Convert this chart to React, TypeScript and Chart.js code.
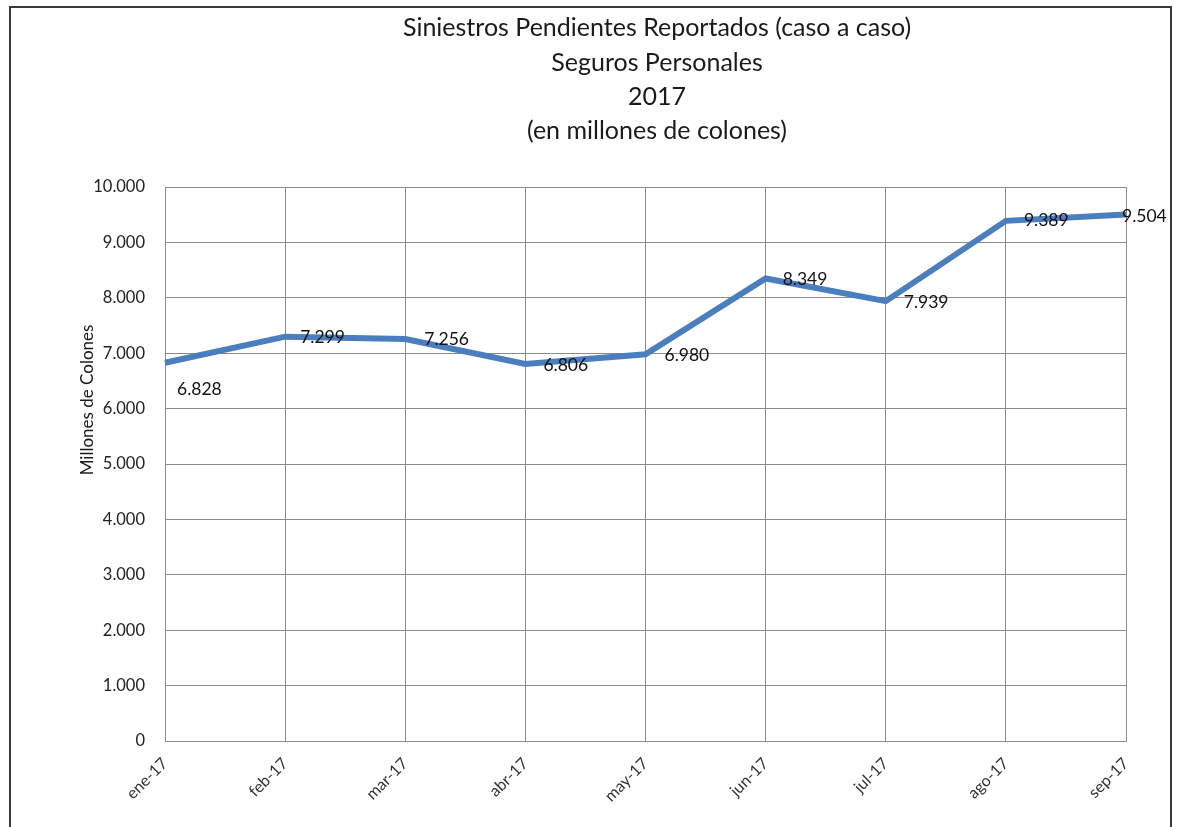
import React, { useEffect, useRef } from "react";
import { Chart, registerables } from "chart.js";

Chart.register(...registerables);

const titleLines = [
  "Siniestros Pendientes Reportados (caso a caso)",
  "Seguros Personales",
  "2017",
  "(en millones de colones)",
];
const months = ["ene-17", "feb-17", "mar-17", "abr-17", "may-17", "jun-17", "jul-17", "ago-17", "sep-17"];
const values = [6828, 7299, 7256, 6806, 6980, 8349, 7939, 9389, 9504];
const yAxisTitle = "Millones de Colones";

const labelDx = [12, 15, 19, 18, 19, 17, 18, 18, -4];
const labelDy = [27, 1, 0, 1, 1, 1, 1, 0, 2];

const FONT = "Lato, 'Open Sans', sans-serif";

function fmt(v: number): string {
  const s = Math.round(v).toString();
  return s.replace(/\B(?=(\d{3})+(?!\d))/g, ".");
}

const decorPlugin = {
  id: "decor",
  beforeDraw(chart: any) {
    const ctx = chart.ctx;
    ctx.save();
    ctx.fillStyle = "#ffffff";
    ctx.fillRect(0, 0, chart.width, chart.height);
    ctx.strokeStyle = "#3a3a3a";
    ctx.lineWidth = 2;
    ctx.strokeRect(10, 7, 1161, 900);
    ctx.restore();
  },
  afterDraw(chart: any) {
    const ctx = chart.ctx;
    ctx.save();
    ctx.fillStyle = "#1a1a1a";
    ctx.textAlign = "center";
    ctx.textBaseline = "middle";
    ctx.font = `25px ${FONT}`;
    const ys = [28, 63, 97, 131];
    titleLines.forEach((t, i) => ctx.fillText(t, 657, ys[i]));

    ctx.font = `17px ${FONT}`;
    ctx.translate(88, 400);
    ctx.rotate(-Math.PI / 2);
    ctx.fillText(yAxisTitle, 0, 0);
    ctx.restore();

    const meta = chart.getDatasetMeta(0);
    ctx.save();
    ctx.font = `17.5px ${FONT}`;
    ctx.fillStyle = "#111111";
    ctx.textAlign = "left";
    ctx.textBaseline = "middle";
    meta.data.forEach((pt: any, i: number) => {
      ctx.fillText(fmt(values[i]), pt.x + labelDx[i], pt.y + labelDy[i]);
    });
    ctx.restore();
  },
};

export default function App() {
  const ref = useRef<HTMLCanvasElement | null>(null);
  useEffect(() => {
    if (!ref.current) return;
    const chart = new Chart(ref.current, {
      type: "line",
      data: {
        labels: months,
        datasets: [
          {
            data: values,
            borderColor: "#4a7ebf",
            borderWidth: 6,
            pointRadius: 0,
            tension: 0,
            fill: false,
          },
        ],
      },
      options: {
        animation: false,
        responsive: false,
        maintainAspectRatio: false,
        layout: { padding: { top: 187, right: 51, left: 0, bottom: 0 } },
        plugins: {
          legend: { display: false },
          title: { display: false },
          tooltip: { enabled: false },
        },
        scales: {
          x: {
            grid: { color: "#8c8c8c", lineWidth: 1, drawTicks: false },
            border: { color: "#8c8c8c", width: 1 },
            ticks: {
              color: "#333333",
              font: { family: FONT, size: 16 },
              minRotation: 45,
              maxRotation: 45,
              padding: 13,
              autoSkip: false,
            },
            afterFit(scale: any) {
              scale.height = 86;
            },
          },
          y: {
            min: 0,
            max: 10000,
            grid: { color: "#8c8c8c", lineWidth: 1, drawTicks: false },
            border: { color: "#8c8c8c", width: 1 },
            ticks: {
              stepSize: 1000,
              color: "#222222",
              font: { family: FONT, size: 16.5 },
              padding: 20,
              callback: (v: any) => fmt(Number(v)),
            },
            afterFit(scale: any) {
              scale.width = 165;
            },
          },
        },
      },
      plugins: [decorPlugin],
    });
    return () => chart.destroy();
  }, []);
  return (
    <div style={{ position: "fixed", left: 0, top: 0, width: 1177, height: 827 }}>
      <canvas ref={ref} width={1177} height={827} style={{ display: "block" }} />
    </div>
  );
}
